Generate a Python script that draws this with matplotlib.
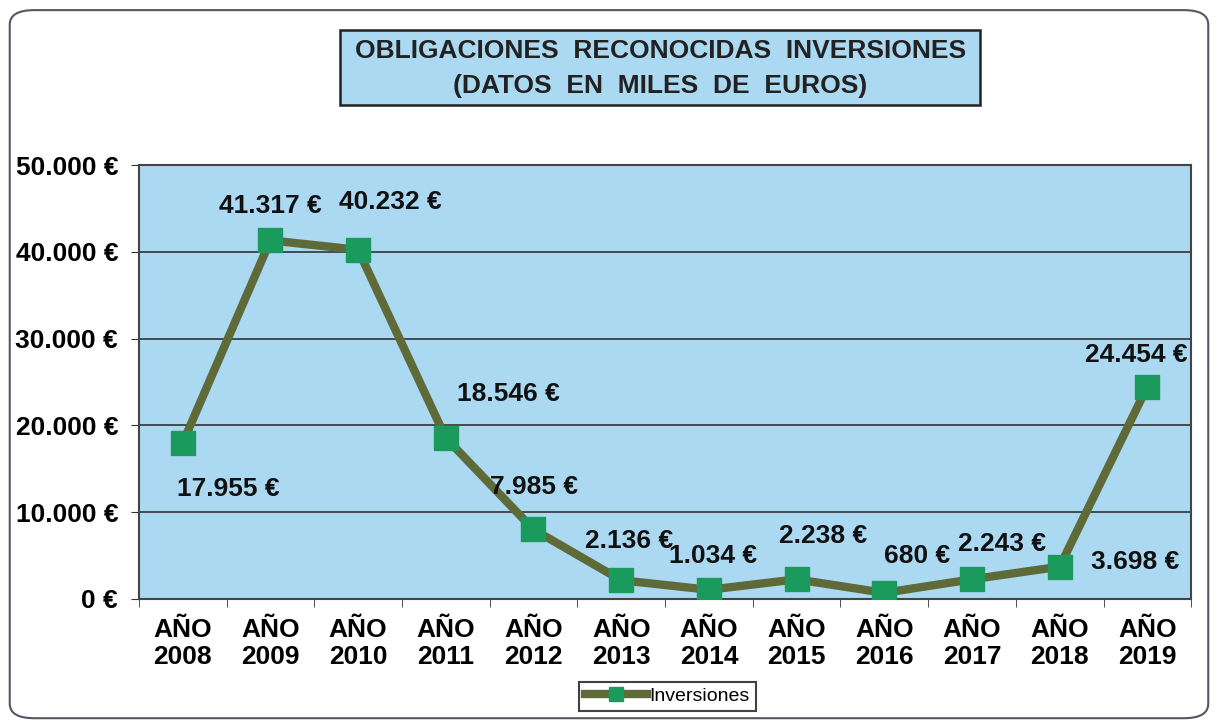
import matplotlib.pyplot as plt
from matplotlib.patches import FancyBboxPatch, Rectangle
from matplotlib.ticker import FuncFormatter, MultipleLocator

# data (miles de euros)
years = ['AÑO\n2008', 'AÑO\n2009', 'AÑO\n2010', 'AÑO\n2011', 'AÑO\n2012', 'AÑO\n2013',
         'AÑO\n2014', 'AÑO\n2015', 'AÑO\n2016', 'AÑO\n2017', 'AÑO\n2018', 'AÑO\n2019']
inversiones = [17955, 41317, 40232, 18546, 7985, 2136, 1034, 2238, 680, 2243, 3698, 24454]
point_labels = ['17.955 €', '41.317 €', '40.232 €', '18.546 €', '7.985 €', '2.136 €',
                '1.034 €', '2.238 €', '680 €', '2.243 €', '3.698 €', '24.454 €']
# label offsets in pixels (dx, dy)
offsets = [(46, -46), (0, 34), (32, 48), (63, 44), (1, 42), (8, 39),
           (4, 34), (26, 43), (33, 37), (30, 35), (75, 5), (-11, 32)]

plt.rcParams['font.family'] = ['Liberation Sans', 'DejaVu Sans']

fig = plt.figure(figsize=(12.18, 7.24), dpi=100)
fig.patch.set_facecolor('white')
fig.patches.append(FancyBboxPatch((0.008, 0.008), 0.984, 0.978, boxstyle='round,pad=0,rounding_size=0.02',
                                  transform=fig.transFigure, fill=False, edgecolor='#555566', lw=1.5))

ax = fig.add_axes([0.114, 0.173, 0.864, 0.599])
ax.set_facecolor('#acd9f2')
x = list(range(len(years)))
ax.plot(x, inversiones, color='#5e6a38', lw=6, marker='s', markersize=17,
        markerfacecolor='#1a9a5c', markeredgecolor='#1a9a5c', label='Inversiones', zorder=3)
for xi, yi, lab, (dx, dy) in zip(x, inversiones, point_labels, offsets):
    ax.annotate(lab, (xi, yi), xytext=(dx, dy), textcoords='offset pixels', ha='center', va='center',
                fontsize=19, fontweight='bold', color='#111111', zorder=4)

ax.set_xlim(-0.5, len(years) - 0.5)
ax.set_ylim(0, 50000)
ax.yaxis.set_major_locator(MultipleLocator(10000))
ax.yaxis.set_major_formatter(FuncFormatter(lambda v, p: f'{int(v):,}'.replace(',', '.') + ' €'))
ax.set_xticks(x)
ax.set_xticklabels(years, fontsize=19, fontweight='bold', linespacing=1.15)
ax.set_xticks([i + 0.5 for i in range(-1, len(years))], minor=True)
ax.tick_params(axis='x', which='major', length=0, pad=14)
ax.tick_params(axis='x', which='minor', length=6, color='#333333')
ax.tick_params(axis='y', labelsize=19, length=6, color='#333333', pad=9)
for t in ax.get_yticklabels():
    t.set_fontweight('bold')
ax.grid(axis='y', color='#333333', lw=1.2)
ax.set_axisbelow(True)
for s in ax.spines.values():
    s.set_color('#444444')
    s.set_linewidth(1.5)

# title box
fig.patches.append(Rectangle((0.279, 0.855), 0.526, 0.104, transform=fig.transFigure,
                             facecolor='#acd9f2', edgecolor='#222222', lw=1.8))
fig.text(0.542, 0.929, 'OBLIGACIONES  RECONOCIDAS  INVERSIONES', ha='center', va='center',
         fontsize=19, fontweight='bold', color='#222222')
fig.text(0.542, 0.881, '(DATOS  EN  MILES  DE  EUROS)', ha='center', va='center',
         fontsize=19, fontweight='bold', color='#222222')

leg = fig.legend(loc='center', bbox_to_anchor=(0.548, 0.038), fontsize=14, frameon=True,
                 fancybox=False, edgecolor='#111111', borderpad=0.3, handlelength=3.2,
                 handletextpad=0.1, markerscale=0.6)
leg.get_frame().set_linewidth(1.5)

fig.savefig('out.png', dpi=100)
